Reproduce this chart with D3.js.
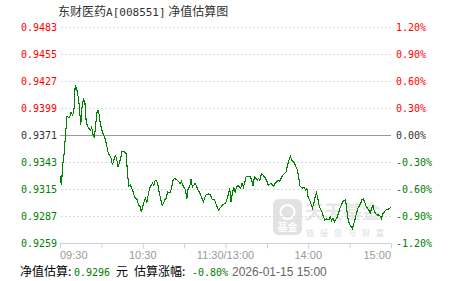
<!DOCTYPE html>
<html>
<head>
<meta charset="utf-8">
<script src="https://cdn.jsdelivr.net/npm/d3@7/dist/d3.min.js"></script>
<style>
  body { margin: 0; background: #fff; }
  svg { display: block; }
</style>
</head>
<body>
<div id="chart"></div>
<script>
// ---- data ----
const fundName = '东财医药';
const fundCode = 'A[008551]';
const chartName = ' 净值估算图';
const baseNav = 0.9371;

const navTicks = [0.9259, 0.9287, 0.9315, 0.9343, 0.9371, 0.9399, 0.9427, 0.9455, 0.9483];
const pctTicks = [-1.20, -0.90, -0.60, -0.30, 0.00, 0.30, 0.60, 0.90, 1.20];

const timeTicks = [0, 30, 60, 90, 120, 150, 180, 210, 240];
const labelMinutes = [0, 60, 120, 180, 240];
const labelTexts = ['09:30', '10:30', '11:30/13:00', '14:00', '15:00'];

// minute index since 09:30 (0-120 morning, 121-240 afternoon) and estimated nav
const minutes = [
  0, 1, 2, 3, 5, 7, 8, 9, 10, 11, 12, 13, 14, 15, 16, 17, 18, 19, 20, 21,
  22, 23, 24, 25, 26, 27, 28, 29, 30, 31, 33, 34, 35, 36, 37, 38, 39, 40, 41, 42,
  43, 44, 45, 46, 48, 49, 50, 51, 52, 53, 54, 56, 57, 58, 59, 60, 61, 62, 63, 64,
  65, 67, 68, 69, 70, 71, 72, 74, 75, 76, 77, 78, 80, 81, 82, 83, 85, 86, 87, 88,
  89, 91, 92, 93, 94, 95, 96, 97, 98, 99, 100, 101, 103, 104, 105, 106, 108, 109, 110, 111,
  112, 114, 115, 116, 117, 118, 120, 121, 122, 123, 124, 125, 126, 127, 128, 129, 131, 132, 133, 134,
  135, 136, 138, 139, 140, 141, 142, 143, 144, 145, 146, 147, 148, 149, 150, 151, 153, 154, 155, 156,
  158, 159, 160, 161, 162, 164, 165, 166, 167, 168, 170, 171, 172, 173, 174, 176, 177, 178, 179, 180,
  181, 183, 184, 185, 186, 187, 188, 190, 191, 192, 193, 195, 196, 197, 198, 199, 201, 202, 203, 204,
  205, 207, 208, 209, 210, 212, 213, 214, 215, 216, 218, 219, 220, 221, 222, 224, 225, 226, 227, 228,
  230, 231, 232, 233, 234, 236, 237, 238, 240
];
const navs = [
  0.9328, 0.9319, 0.9340, 0.9352, 0.9390, 0.9389, 0.9395, 0.9392, 0.9394, 0.9422, 0.9420, 0.9412, 0.9402, 0.9381, 0.9400, 0.9408, 0.9406, 0.9385, 0.9380, 0.9378,
  0.9376, 0.9379, 0.9371, 0.9369, 0.9383, 0.9396, 0.9396, 0.9385, 0.9378, 0.9373, 0.9366, 0.9359, 0.9352, 0.9350, 0.9347, 0.9340, 0.9345, 0.9350, 0.9347, 0.9338,
  0.9342, 0.9347, 0.9354, 0.9354, 0.9352, 0.9330, 0.9318, 0.9319, 0.9316, 0.9312, 0.9307, 0.9304, 0.9298, 0.9297, 0.9291, 0.9297, 0.9302, 0.9305, 0.9301, 0.9309,
  0.9316, 0.9321, 0.9319, 0.9324, 0.9324, 0.9319, 0.9311, 0.9298, 0.9300, 0.9304, 0.9305, 0.9312, 0.9311, 0.9317, 0.9324, 0.9326, 0.9324, 0.9323, 0.9320, 0.9323,
  0.9319, 0.9314, 0.9305, 0.9316, 0.9317, 0.9325, 0.9317, 0.9319, 0.9321, 0.9318, 0.9314, 0.9312, 0.9305, 0.9302, 0.9306, 0.9309, 0.9310, 0.9309, 0.9305, 0.9304,
  0.9304, 0.9296, 0.9293, 0.9295, 0.9297, 0.9299, 0.9300, 0.9304, 0.9309, 0.9316, 0.9302, 0.9311, 0.9316, 0.9312, 0.9317, 0.9319, 0.9316, 0.9321, 0.9317, 0.9322,
  0.9328, 0.9328, 0.9328, 0.9324, 0.9318, 0.9328, 0.9326, 0.9324, 0.9326, 0.9324, 0.9331, 0.9330, 0.9328, 0.9326, 0.9323, 0.9319, 0.9321, 0.9319, 0.9318, 0.9321,
  0.9324, 0.9323, 0.9325, 0.9328, 0.9330, 0.9333, 0.9340, 0.9345, 0.9349, 0.9345, 0.9342, 0.9338, 0.9335, 0.9328, 0.9318, 0.9316, 0.9317, 0.9314, 0.9316, 0.9305,
  0.9304, 0.9295, 0.9300, 0.9307, 0.9311, 0.9305, 0.9297, 0.9291, 0.9286, 0.9283, 0.9284, 0.9283, 0.9286, 0.9282, 0.9285, 0.9281, 0.9286, 0.9290, 0.9295, 0.9298,
  0.9302, 0.9304, 0.9293, 0.9283, 0.9278, 0.9274, 0.9279, 0.9284, 0.9290, 0.9295, 0.9300, 0.9304, 0.9305, 0.9301, 0.9297, 0.9293, 0.9290, 0.9295, 0.9298, 0.9291,
  0.9288, 0.9288, 0.9287, 0.9284, 0.9289, 0.9293, 0.9294, 0.9294, 0.9296
];

const estNav = '0.9296';
const estPct = '-0.80%';
const estTime = '2026-01-15 15:00';

// ---- layout ----
const W = 451, H = 281;
const plot = { left: 60, right: 391, top: 27, bottom: 243 };
const RED = '#ff0000', GREEN = '#008000', DARK = '#333';
const monoFont = '"DejaVu Sans Mono", monospace';
const cjkFont = '"Noto Sans CJK SC", sans-serif';

const $svg = d3.select('#chart').append('svg')
  .attr('width', W)
  .attr('height', H);

$svg.append('rect').attr('width', W).attr('height', H).attr('fill', '#fff');

const x = d3.scaleLinear().domain([0, 240]).range([plot.left, plot.right]);
const y = d3.scaleLinear().domain([navTicks[0], navTicks[navTicks.length - 1]]).range([plot.bottom, plot.top]);
const yPct = d3.scaleLinear().domain([pctTicks[0], pctTicks[pctTicks.length - 1]]).range([plot.bottom, plot.top]);

const colourFor = d => d > 0 ? RED : (d < 0 ? GREEN : DARK);

// title
$svg.append('text')
  .attr('x', 58)
  .attr('y', 16)
  .attr('fill', DARK)
  .attr('font-family', cjkFont)
  .attr('font-size', 12)
  .call(t => {
    t.append('tspan').text(fundName);
    t.append('tspan').attr('font-family', monoFont).attr('font-size', 11).text(fundCode);
    t.append('tspan').text(chartName);
  });

// watermark
const $wm = $svg.append('g').attr('opacity', 0.8);
$wm.append('rect')
  .attr('x', 273).attr('y', 199)
  .attr('width', 29).attr('height', 36)
  .attr('rx', 6)
  .attr('fill', '#dcdcdc');
$wm.append('circle')
  .attr('cx', 287.5).attr('cy', 212).attr('r', 7)
  .attr('fill', 'none').attr('stroke', '#fff').attr('stroke-width', 2);
$wm.append('text')
  .attr('x', 287.5).attr('y', 231)
  .attr('text-anchor', 'middle')
  .attr('fill', '#fff')
  .attr('font-family', cjkFont)
  .attr('font-weight', 700)
  .attr('font-size', 10)
  .text('基金');
$wm.append('text')
  .attr('x', 305).attr('y', 219)
  .attr('fill', '#e2e2e2')
  .attr('font-family', cjkFont)
  .attr('font-weight', 700)
  .attr('font-size', 19)
  .text('天天基金');
$wm.append('text')
  .attr('x', 306).attr('y', 236)
  .attr('fill', '#d6d6d6')
  .attr('font-family', cjkFont)
  .attr('font-size', 8)
  .attr('letter-spacing', 6)
  .text('链接您与财富');

// grid
$svg.append('g')
  .selectAll('line')
  .data(navTicks.filter(d => d !== baseNav && d !== navTicks[0]))
  .join('line')
  .attr('x1', plot.left + 1)
  .attr('x2', plot.right)
  .attr('y1', d => Math.round(y(d)) + 0.5)
  .attr('y2', d => Math.round(y(d)) + 0.5)
  .attr('stroke', '#dadada')
  .attr('stroke-dasharray', '2,2');

// x axis
const xAxis = d3.axisBottom(x)
  .tickValues(timeTicks)
  .tickSize(5)
  .tickFormat('');

$svg.append('g')
  .attr('class', 'axis x')
  .attr('transform', `translate(0, ${plot.bottom + 0.5})`)
  .call(xAxis)
  .call(g => g.select('.domain').attr('stroke', '#c6d2e0').attr('d', `M${plot.left},0H${plot.right}`))
  .call(g => g.selectAll('.tick line').attr('stroke', '#c6d2e0'));

$svg.append('g')
  .selectAll('text')
  .data(labelMinutes)
  .join('text')
  .attr('x', d => x(d))
  .attr('y', 259)
  .attr('text-anchor', (d, i) => i === 0 ? 'start' : (i === labelMinutes.length - 1 ? 'end' : 'middle'))
  .attr('fill', '#999')
  .attr('font-family', '"Liberation Sans", Arial, sans-serif')
  .attr('font-size', 11)
  .text((d, i) => labelTexts[i]);

// base line (previous nav)
$svg.append('line')
  .attr('x1', plot.left)
  .attr('x2', plot.right)
  .attr('y1', Math.round(y(baseNav)) + 0.5)
  .attr('y2', Math.round(y(baseNav)) + 0.5)
  .attr('stroke', '#999')
  .attr('stroke-width', 1);

// left axis labels
$svg.append('g')
  .selectAll('text')
  .data(navTicks)
  .join('text')
  .attr('x', 57)
  .attr('y', d => y(d) + 4)
  .attr('text-anchor', 'end')
  .attr('fill', d => colourFor(+(d - baseNav).toFixed(4)))
  .attr('font-family', monoFont)
  .attr('font-size', 10)
  .text(d => d.toFixed(4));

// right axis labels
$svg.append('g')
  .selectAll('text')
  .data(pctTicks)
  .join('text')
  .attr('x', 396)
  .attr('y', d => yPct(d) + 4)
  .attr('fill', d => colourFor(d))
  .attr('font-family', monoFont)
  .attr('font-size', 10)
  .text(d => d.toFixed(2) + '%');

// nav line
const points = minutes.map((m, i) => ({ m, v: navs[i] }));
const line = d3.line()
  .x(d => x(d.m))
  .y(d => y(d.v));

$svg.append('path')
  .datum(points)
  .attr('d', line)
  .attr('fill', 'none')
  .attr('stroke', GREEN)
  .attr('stroke-width', 1.1)
  .attr('shape-rendering', 'crispEdges');

// footer
const fy = 276;
const footer = [
  { x: 20, text: '净值估算:', fill: '#000', font: cjkFont, size: 12 },
  { x: 74, text: estNav, fill: GREEN, font: monoFont, size: 10 },
  { x: 116, text: '元', fill: '#000', font: cjkFont, size: 12 },
  { x: 134, text: '估算涨幅:', fill: '#000', font: cjkFont, size: 12 },
  { x: 192, text: estPct, fill: GREEN, font: monoFont, size: 10 },
  { x: 232, text: estTime, fill: '#666', font: '"Liberation Sans", Arial, sans-serif', size: 12 }
];
$svg.append('g')
  .selectAll('text')
  .data(footer)
  .join('text')
  .attr('x', d => d.x)
  .attr('y', fy)
  .attr('fill', d => d.fill)
  .attr('font-family', d => d.font)
  .attr('font-size', d => d.size)
  .text(d => d.text);
</script>
</body>
</html>
